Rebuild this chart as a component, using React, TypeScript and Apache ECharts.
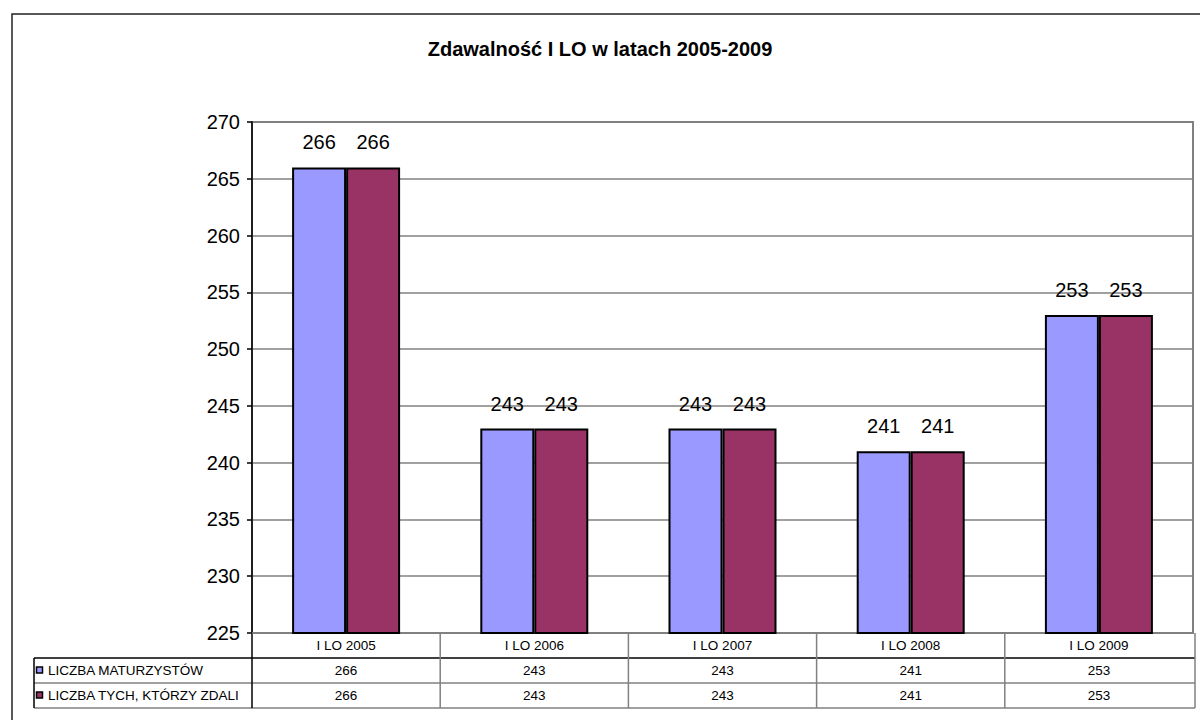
import React, { useEffect, useRef } from "react";
import * as echarts from "echarts";

const title = "Zdawalność I LO w latach 2005-2009";
const categories = ["I LO 2005", "I LO 2006", "I LO 2007", "I LO 2008", "I LO 2009"];
const seriesNames = ["LICZBA MATURZYSTÓW", "LICZBA TYCH, KTÓRZY ZDALI"];
const maturzysci = [266, 243, 243, 241, 253];
const zdali = [266, 243, 243, 241, 253];
const colors = ["#9999FF", "#993366"];
const yMin = 225;
const yMax = 270;
const yInterval = 5;

const W = 1200;
const H = 720;
const gridLeft = 252;
const gridTop = 122;
const gridRight = 1193;
const gridBottom = 633;
const rowH = 25;

export default function App() {
  const ref = useRef<HTMLDivElement>(null);
  useEffect(() => {
    document.body.style.margin = "0";
    const chart = echarts.init(ref.current!, null, { renderer: "svg" });
    const font = "'Liberation Sans', Arial, sans-serif";
    const tfs = 13.5;
    const n = categories.length;
    const cw = (gridRight - gridLeft) / n;
    const rows = [maturzysci, zdali];
    const graphics: any[] = [];
    // outer border
    graphics.push({
      type: "rect",
      shape: { x: 12, y: 14, width: 1200, height: 720 },
      style: { fill: "none", stroke: "#222", lineWidth: 1.5 },
      silent: true,
    });
    const tableTop = gridBottom + rowH;
    const tableLeft = 34;
    const tableRight = gridRight + 2;
    for (let r = 0; r <= rows.length; r++) {
      const y = tableTop + r * rowH;
      graphics.push({
        type: "line",
        shape: { x1: tableLeft, y1: y, x2: tableRight, y2: y },
        style: { stroke: r === 0 ? "#000" : "#808080", lineWidth: 1.5 },
        silent: true,
      });
    }
    graphics.push({
      type: "line",
      shape: { x1: tableLeft, y1: tableTop, x2: tableLeft, y2: tableTop + rows.length * rowH },
      style: { stroke: "#000", lineWidth: 1.5 },
      silent: true,
    });
    for (let i = 0; i <= n; i++) {
      const x = i === n ? tableRight : gridLeft + i * cw;
      graphics.push({
        type: "line",
        shape: { x1: x, y1: gridBottom, x2: x, y2: tableTop + rows.length * rowH },
        style: { stroke: i === 0 ? "#000" : "#808080", lineWidth: 1.5 },
        silent: true,
      });
    }
    rows.forEach((vals, r) => {
      const cy = tableTop + r * rowH + rowH / 2;
      graphics.push({
        type: "rect",
        shape: { x: 36.5, y: cy - 3.5, width: 6, height: 6 },
        style: { fill: colors[r], stroke: "#000", lineWidth: 1.5 },
        silent: true,
      });
      graphics.push({
        type: "text",
        x: 48,
        y: cy,
        style: {
          text: seriesNames[r],
          fontFamily: font,
          fontSize: tfs,
          fill: "#000",
          verticalAlign: "middle",
          align: "left",
        },
        silent: true,
      });
      vals.forEach((v, i) => {
        graphics.push({
          type: "text",
          x: gridLeft + (i + 0.5) * cw,
          y: cy,
          style: {
            text: String(v),
            fontFamily: font,
            fontSize: tfs,
            fill: "#000",
            verticalAlign: "middle",
            align: "center",
          },
          silent: true,
        });
      });
    });

    const barLabel = {
      show: true,
      position: "top",
      distance: 15,
      fontFamily: font,
      fontSize: 20,
      color: "#000",
    };

    chart.setOption({
      animation: false,
      backgroundColor: "#fff",
      title: {
        text: title,
        left: "center",
        top: 34,
        textStyle: { fontFamily: font, fontSize: 20, fontWeight: "bold", color: "#000" },
      },
      grid: {
        left: gridLeft,
        top: gridTop,
        right: W - gridRight,
        bottom: H - gridBottom,
        show: true,
        borderColor: "#808080",
        borderWidth: 2,
      },
      xAxis: {
        type: "category",
        data: categories,
        axisLine: { lineStyle: { color: "#808080", width: 1.5 } },
        axisTick: { show: false },
        axisLabel: { fontFamily: font, fontSize: tfs, color: "#000", margin: 5 },
      },
      yAxis: {
        type: "value",
        min: yMin,
        max: yMax,
        interval: yInterval,
        axisLine: { show: true, lineStyle: { color: "#000", width: 1.5 } },
        axisTick: { show: true, length: 5, lineStyle: { color: "#000", width: 1.5 } },
        axisLabel: { fontFamily: font, fontSize: 20, color: "#000", margin: 12 },
        splitLine: { lineStyle: { color: "#808080", width: 1.5 } },
      },
      series: [
        {
          name: seriesNames[0],
          type: "bar",
          data: maturzysci,
          barWidth: 54,
          barGap: "0%",
          itemStyle: { color: colors[0], borderColor: "#000", borderWidth: 2 },
          label: barLabel,
        },
        {
          name: seriesNames[1],
          type: "bar",
          data: zdali,
          barWidth: 54,
          barGap: "0%",
          itemStyle: { color: colors[1], borderColor: "#000", borderWidth: 2 },
          label: barLabel,
        },
      ],
      graphic: graphics,
    });
    return () => chart.dispose();
  }, []);
  return <div ref={ref} style={{ width: W, height: H }} />;
}
